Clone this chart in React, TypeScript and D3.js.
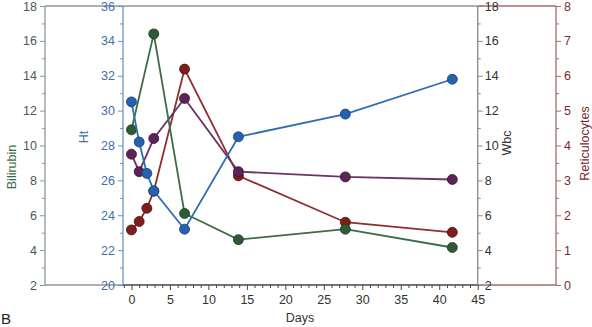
import React, { useEffect, useRef } from "react";
import * as d3 from "d3";

const biliDays = [0, 2.9, 6.9, 13.9, 27.8, 41.7];
const bili = [10.9, 16.4, 6.1, 4.6, 5.2, 4.15];
const htDays = [0, 1, 2, 2.9, 6.9, 13.9, 27.8, 41.7];
const ht = [30.5, 28.2, 26.4, 25.4, 23.2, 28.5, 29.8, 31.8];
const wbcDays = [0, 1, 2.9, 6.9, 13.9, 27.8, 41.7];
const wbc = [9.5, 8.5, 10.4, 12.7, 8.5, 8.2, 8.05];
const retDays = [0, 1, 2, 2.9, 6.9, 13.9, 27.8, 41.7];
const ret = [1.58, 1.82, 2.2, 2.69, 6.19, 3.13, 1.8, 1.51];

const xTicks = [0, 5, 10, 15, 20, 25, 30, 35, 40, 45];
const biliTicks = [2, 4, 6, 8, 10, 12, 14, 16, 18];
const htTicks = [20, 22, 24, 26, 28, 30, 32, 34, 36];
const wbcTicks = [2, 4, 6, 8, 10, 12, 14, 16, 18];
const retTicks = [0, 1, 2, 3, 4, 5, 6, 7, 8];

const W = 592, H = 327;
const TOP = 6, BOT = 285;
const X_BILI = 45, X_HT = 123, X_WBC = 477.7, X_RET = 556;
const FONT = "Liberation Sans, Arial, Helvetica, sans-serif";

export default function App() {
  const ref = useRef<SVGSVGElement>(null);
  useEffect(() => {
    const svg = d3.select(ref.current);
    svg.selectAll("*").remove();

    const x = d3.scaleLinear().domain([-1.1, 45]).range([X_HT, X_WBC]);
    const yB = d3.scaleLinear().domain([2, 18]).range([BOT, TOP]);
    const yH = d3.scaleLinear().domain([20, 36]).range([BOT, TOP]);
    const yW = d3.scaleLinear().domain([2, 18]).range([BOT, TOP]);
    const yR = d3.scaleLinear().domain([0, 8]).range([BOT, TOP]);

    const styleAxis = (g: any, color: string, labelColor: string) => {
      g.select(".domain").remove();
      g.selectAll("line").attr("stroke", color).attr("stroke-width", 1);
      g.selectAll("text")
        .attr("fill", labelColor)
        .attr("font-family", FONT)
        .attr("font-size", 12.5);
    };

    // frame lines
    svg.append("line").attr("x1", X_BILI).attr("x2", X_WBC).attr("y1", TOP).attr("y2", TOP).attr("stroke", "#8f9999").attr("stroke-width", 1.3);
    svg.append("line").attr("x1", X_WBC).attr("x2", X_RET).attr("y1", TOP).attr("y2", TOP).attr("stroke", "#a56b6b").attr("stroke-width", 1.3);
    svg.append("line").attr("x1", X_BILI).attr("x2", X_HT).attr("y1", BOT).attr("y2", BOT).attr("stroke", "#8f9999").attr("stroke-width", 1.3);
    svg.append("line").attr("x1", X_HT).attr("x2", X_WBC).attr("y1", BOT).attr("y2", BOT).attr("stroke", "#444").attr("stroke-width", 1.3);
    svg.append("line").attr("x1", X_WBC).attr("x2", X_RET).attr("y1", BOT).attr("y2", BOT).attr("stroke", "#a56b6b").attr("stroke-width", 1.3);

    // vertical axis lines
    const vline = (xx: number, c: string) =>
      svg.append("line").attr("x1", xx).attr("x2", xx).attr("y1", TOP).attr("y2", BOT).attr("stroke", c).attr("stroke-width", 1.3);
    vline(X_BILI, "#8f9999");
    vline(X_HT, "#6f93bd");
    vline(X_WBC, "#8a8a8a");
    vline(X_RET, "#a56b6b");

    // Bilirubin axis
    const gB = svg.append("g").attr("transform", `translate(${X_BILI},0)`);
    gB.call(d3.axisLeft(yB).tickValues(biliTicks).tickSize(5).tickPadding(3).tickFormat(d3.format("d")) as any);
    styleAxis(gB, "#8f9999", "#555");
    const gBm = svg.append("g").attr("transform", `translate(${X_BILI},0)`);
    gBm.call(d3.axisLeft(yB).tickValues(d3.range(3, 18, 2)).tickSize(3).tickFormat(() => "") as any);
    styleAxis(gBm, "#8f9999", "#555");

    // Ht axis
    const gH = svg.append("g").attr("transform", `translate(${X_HT},0)`);
    gH.call(d3.axisLeft(yH).tickValues(htTicks).tickSize(5).tickPadding(3).tickFormat(d3.format("d")) as any);
    styleAxis(gH, "#6f93bd", "#3f6fa3");
    const gHm = svg.append("g").attr("transform", `translate(${X_HT},0)`);
    gHm.call(d3.axisLeft(yH).tickValues(d3.range(21, 36, 2)).tickSize(3).tickFormat(() => "") as any);
    styleAxis(gHm, "#6f93bd", "#3f6fa3");

    // Wbc axis
    const gW = svg.append("g").attr("transform", `translate(${X_WBC},0)`);
    gW.call(d3.axisRight(yW).tickValues(wbcTicks).tickSize(5).tickPadding(2).tickFormat(d3.format("d")) as any);
    styleAxis(gW, "#8a8a8a", "#333");
    const gWm = svg.append("g").attr("transform", `translate(${X_WBC},0)`);
    gWm.call(d3.axisRight(yW).tickValues(d3.range(3, 18, 2)).tickSize(3).tickFormat(() => "") as any);
    styleAxis(gWm, "#8a8a8a", "#333");

    // Reticulocytes axis
    const gR = svg.append("g").attr("transform", `translate(${X_RET},0)`);
    gR.call(d3.axisRight(yR).tickValues(retTicks).tickSize(5).tickPadding(3).tickFormat(d3.format("d")) as any);
    styleAxis(gR, "#a56b6b", "#7a2b2b");
    const gRm = svg.append("g").attr("transform", `translate(${X_RET},0)`);
    gRm.call(d3.axisRight(yR).tickValues(d3.range(0.5, 8, 1)).tickSize(3).tickFormat(() => "") as any);
    styleAxis(gRm, "#a56b6b", "#7a2b2b");

    // X axis
    const gX = svg.append("g").attr("transform", `translate(0,${BOT})`);
    gX.call(d3.axisBottom(x).tickValues(xTicks).tickSize(5).tickPadding(5).tickFormat(d3.format("d")) as any);
    styleAxis(gX, "#444", "#333");
    const gXm = svg.append("g").attr("transform", `translate(0,${BOT})`);
    gXm.call(d3.axisBottom(x).tickValues(d3.range(-1, 45, 1).filter((v) => v % 5 !== 0)).tickSize(3).tickFormat(() => "") as any);
    styleAxis(gXm, "#444", "#333");

    // Titles
    const title = (txt: string, tx: number, ty: number, color: string, rot: boolean) => {
      svg.append("text")
        .attr("transform", `translate(${tx},${ty})${rot ? " rotate(-90)" : ""}`)
        .attr("text-anchor", "middle")
        .attr("fill", color)
        .attr("font-family", FONT)
        .attr("font-size", 12.5)
        .text(txt);
    };
    title("Bilirubin", 16, 167, "#3b6b45", true);
    title("Ht", 88, 137, "#3f6fa3", true);
    title("Wbc", 511, 143, "#333", true);
    title("Reticulocytes", 589, 143.5, "#7a2b2b", true);
    title("Days", 300, 322, "#333", false);
    svg.append("text").attr("x", 1).attr("y", 324).attr("fill", "#222").attr("font-family", FONT).attr("font-size", 15).text("B");

    // Series
    const series = [
      { days: retDays, vals: ret, y: yR, line: "#8e2f2f", fill: "#7f1d1d", stroke: "#4a1010" },
      { days: wbcDays, vals: wbc, y: yW, line: "#6a3468", fill: "#5b2457", stroke: "#3a1438" },
      { days: biliDays, vals: bili, y: yB, line: "#3d6b45", fill: "#2f5a36", stroke: "#1c3a22" },
      { days: htDays, vals: ht, y: yH, line: "#2f6cb3", fill: "#2462ad", stroke: "#163f73" },
    ];
    series.forEach((s) => {
      const pts: [number, number][] = s.days.map((d, i) => [d, s.vals[i]]);
      const line = d3.line<[number, number]>().x((p) => x(p[0])).y((p) => s.y(p[1]));
      svg.append("path").attr("d", line(pts)).attr("fill", "none").attr("stroke", s.line).attr("stroke-width", 1.8);
      svg.selectAll(null).data(pts).enter().append("circle")
        .attr("cx", (p) => x(p[0])).attr("cy", (p) => s.y(p[1])).attr("r", 5)
        .attr("fill", s.fill).attr("stroke", s.stroke).attr("stroke-width", 0.8);
    });
  }, []);

  return (
    <svg ref={ref} width={W} height={H} style={{ position: "absolute", left: 0, top: 0, background: "#fff" }} />
  );
}
